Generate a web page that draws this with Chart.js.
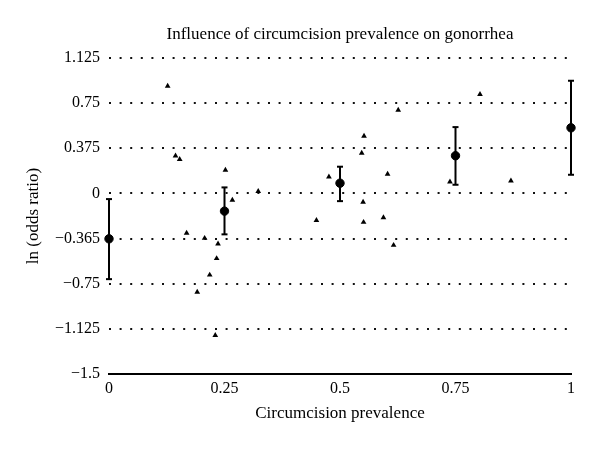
<!DOCTYPE html>
<html>
<head>
<meta charset="utf-8">
<script src="https://cdn.jsdelivr.net/npm/chart.js@4/dist/chart.umd.min.js"></script>
<style>
  html, body { margin: 0; padding: 0; background: #fff; }
  #wrap { width: 600px; height: 449px; }
</style>
</head>
<body>
<div id="wrap"><canvas id="chart"></canvas></div>
<script>
// individual studies (triangles)
const studyX = [0.127, 0.144, 0.153, 0.168, 0.191, 0.207, 0.218, 0.230, 0.233, 0.236, 0.252, 0.267, 0.323,
                0.449, 0.476, 0.547, 0.552, 0.550, 0.551, 0.594, 0.603, 0.616, 0.626, 0.738, 0.803, 0.870];
const studyY = [0.892, 0.313, 0.283, -0.33, -0.82, -0.372, -0.677, -1.178, -0.54, -0.419, 0.194, -0.055, 0.017,
                -0.224, 0.138, 0.335, 0.476, -0.072, -0.239, -0.2, 0.16, -0.43, 0.692, 0.096, 0.823, 0.105];

// pooled estimates with error bars
const meanX = [0, 0.25, 0.5, 0.75, 1];
const meanY = [-0.377, -0.147, 0.085, 0.313, 0.545];
const errLow = [-0.712, -0.34, -0.064, 0.072, 0.155];
const errHigh = [-0.047, 0.05, 0.222, 0.551, 0.936];

const xTicks = [0, 0.25, 0.5, 0.75, 1];
const xTickLabels = ["0", "0.25", "0.5", "0.75", "1"];
const yTicks = [-1.5, -1.125, -0.75, -0.375, 0, 0.375, 0.75, 1.125];
const yTickLabels = ["\u22121.5", "\u22121.125", "\u22120.75", "\u22120.365", "0", "0.375", "0.75", "1.125"];

const serif = "'Liberation Serif', 'DejaVu Serif', serif";

const errorBars = meanX.map((x, i) => ({
    type: 'line',
    data: [{x: x, y: errLow[i]}, {x: x, y: errHigh[i]}],
    borderColor: '#000',
    borderWidth: 2,
    pointStyle: 'line',
    pointRadius: 3,
    pointBorderWidth: 2,
    pointBorderColor: '#000',
    clip: false
}));

new Chart(document.getElementById('chart'), {
    type: 'scatter',
    data: {
        datasets: [
            {
                data: meanX.map((x, i) => ({x: x, y: meanY[i]})),
                pointStyle: 'circle',
                pointRadius: 4.2,
                backgroundColor: '#000',
                borderColor: '#000',
                clip: false
            },
            {
                data: studyX.map((x, i) => ({x: x, y: studyY[i]})),
                pointStyle: 'triangle',
                pointRadius: 3.3,
                backgroundColor: '#000',
                borderColor: '#000',
                borderWidth: 0,
                clip: false
            },
            ...errorBars
        ]
    },
    options: {
        responsive: true,
        maintainAspectRatio: false,
        animation: false,
        events: [],
        layout: { padding: { left: 0, right: 29, top: 0, bottom: 0 } },
        plugins: {
            legend: { display: false },
            tooltip: { enabled: false },
            title: {
                display: true,
                fullSize: false,
                text: 'Influence of circumcision prevalence on gonorrhea',
                color: '#000',
                font: { family: serif, size: 17, weight: 'normal' },
                padding: { top: 24, bottom: 13.6 }
            }
        },
        scales: {
            x: {
                type: 'linear',
                min: 0,
                max: 1,
                afterFit: (scale) => { scale.height = 75; },
                afterBuildTicks: (scale) => { scale.ticks = xTicks.map(v => ({value: v})); },
                grid: { display: false, drawTicks: false },
                border: { display: true, color: '#000', width: 2 },
                ticks: {
                    color: '#000',
                    padding: 5,
                    font: { family: serif, size: 16 },
                    callback: (v) => xTickLabels[xTicks.indexOf(v)]
                },
                title: {
                    display: true,
                    text: 'Circumcision prevalence',
                    color: '#000',
                    font: { family: serif, size: 17 },
                    padding: { top: 0, bottom: 25 }
                }
            },
            y: {
                type: 'linear',
                min: -1.5,
                max: 1.125,
                afterFit: (scale) => { scale.width = 109; },
                afterBuildTicks: (scale) => { scale.ticks = yTicks.map(v => ({value: v})); },
                grid: { color: '#111', lineWidth: 2, drawTicks: false },
                border: { display: false, dash: [2, 8.6] },
                ticks: {
                    color: '#000',
                    padding: 9,
                    font: { family: serif, size: 16 },
                    callback: (v) => yTickLabels[yTicks.indexOf(v)]
                },
                title: {
                    display: true,
                    text: 'ln (odds ratio)',
                    color: '#000',
                    font: { family: serif, size: 17 },
                    padding: { top: 23 }
                }
            }
        }
    }
});
</script>
</body>
</html>
